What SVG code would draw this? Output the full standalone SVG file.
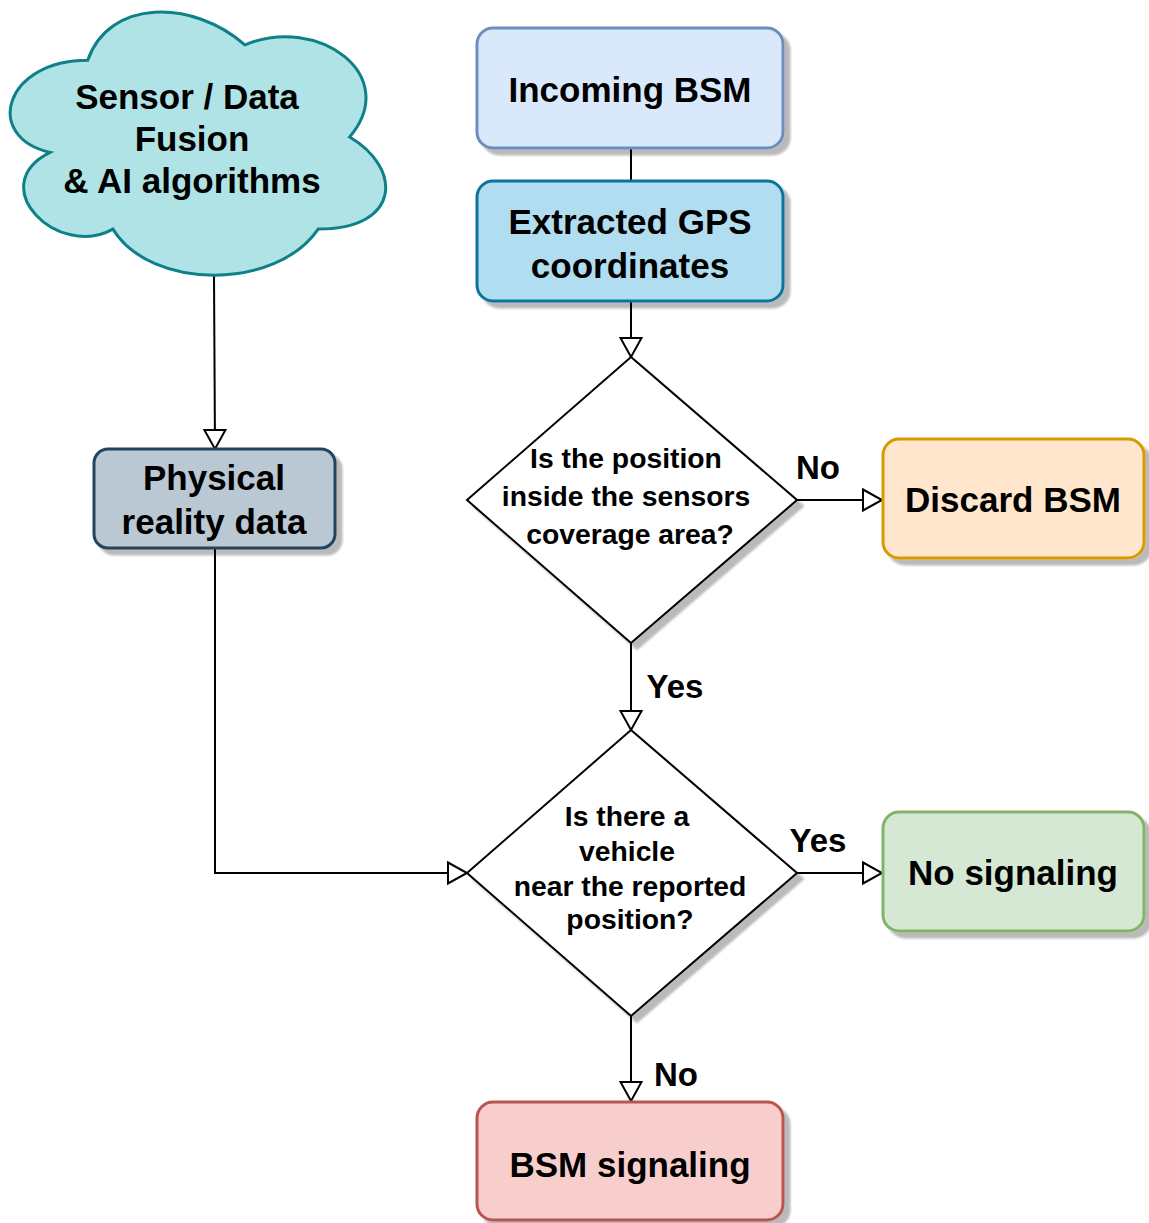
<svg xmlns="http://www.w3.org/2000/svg" width="1149" height="1223" viewBox="0 0 1149 1223">
  <defs>
    <filter id="shadow" x="-10%" y="-10%" width="130%" height="130%">
      <feDropShadow dx="6" dy="6" stdDeviation="1" flood-color="#000000" flood-opacity="0.27"/>
    </filter>
    <marker id="openArrow" markerUnits="userSpaceOnUse" markerWidth="24" markerHeight="26" viewBox="-2 -2 24 26" refX="19" refY="10.5" orient="auto">
      <path d="M0,0 L19,10.5 L0,21 Z" fill="#ffffff" stroke="#000000" stroke-width="2"/>
    </marker>
  </defs>
  <style>
    text { font-family: "Liberation Sans", Arial, Helvetica, sans-serif; font-weight: bold; fill: #000000; text-anchor: middle; }
    .big { font-size: 35px; }
    .q { font-size: 28.3px; }
    .lbl { font-size: 33px; }
    .box { stroke-width: 3; filter: url(#shadow); }
    .diamond { fill: #ffffff; stroke: #000000; stroke-width: 2; filter: url(#shadow); }
    .edge { fill: none; stroke: #000000; stroke-width: 2; }
  </style>

  <rect width="1149" height="1223" fill="#ffffff"/>

  <!-- connectors -->
  <g id="connectors">
    <path class="edge" d="M631,149 L631,181"/>
    <path class="edge" d="M631,302 L631,357" marker-end="url(#openArrow)"/>
    <path class="edge" d="M797,500 L882,500" marker-end="url(#openArrow)"/>
    <path class="edge" d="M631,643 L631,730" marker-end="url(#openArrow)"/>
    <path class="edge" d="M797,873 L882,873" marker-end="url(#openArrow)"/>
    <path class="edge" d="M631,1016 L631,1101" marker-end="url(#openArrow)"/>
    <path class="edge" d="M214,276 L215,449" marker-end="url(#openArrow)"/>
    <path class="edge" d="M215,548 L215,873 L467,873" marker-end="url(#openArrow)"/>
    <text class="lbl" x="818" y="479">No</text>
    <text class="lbl" x="675" y="698">Yes</text>
    <text class="lbl" x="818" y="852">Yes</text>
    <text class="lbl" x="676" y="1086">No</text>
  </g>

  <!-- sensor fusion cloud -->
  <g id="cloud">
    <path d="M87.75,60.25 C3.95,60.25 -17,137 50.04,152.35 C-17,186.1 58.42,259.8 112.89,229.1 C150.6,290.5 276.3,290.5 318.2,229.1 C402,229.1 402,167.7 349.6,137 C402,75.6 318.2,14.2 244.88,44.9 C192.5,-1.15 108.7,-1.15 87.75,60.25 Z" fill="#b0e3e6" stroke="#0e8088" stroke-width="3"/>
    <text class="big" x="187" y="109">Sensor / Data</text>
    <text class="big" x="192" y="151">Fusion</text>
    <text class="big" x="192" y="193">&amp; AI algorithms</text>
  </g>

  <g id="incoming">
    <rect class="box" x="477" y="28" width="306" height="120" rx="16" fill="#dae8fc" stroke="#6c8ebf"/>
    <text class="big" x="630" y="102">Incoming BSM</text>
  </g>

  <g id="extracted">
    <rect class="box" x="477" y="181" width="306" height="120" rx="16" fill="#b1ddf0" stroke="#10739e"/>
    <text class="big" x="630" y="234">Extracted GPS</text>
    <text class="big" x="630" y="278">coordinates</text>
  </g>

  <g id="physical">
    <rect class="box" x="94" y="449" width="241" height="99" rx="14" fill="#bac8d3" stroke="#23445d"/>
    <text class="big" x="214" y="490">Physical</text>
    <text class="big" x="214" y="534">reality data</text>
  </g>

  <g id="coverage">
    <path class="diamond" d="M631,357 L797,500 L631,643 L467,500 Z"/>
    <text class="q" x="626" y="468">Is the position</text>
    <text class="q" x="626" y="506">inside the sensors</text>
    <text class="q" x="630" y="544">coverage area?</text>
  </g>

  <g id="discard">
    <rect class="box" x="883" y="439" width="261" height="119" rx="16" fill="#ffe6cc" stroke="#d79b00"/>
    <text class="big" x="1013" y="512">Discard BSM</text>
  </g>

  <g id="vehicle">
    <path class="diamond" d="M631,730 L797,873 L631,1016 L467,873 Z"/>
    <text class="q" x="627" y="826">Is there a</text>
    <text class="q" x="627" y="861">vehicle</text>
    <text class="q" x="630" y="896">near the reported</text>
    <text class="q" x="630" y="929">position?</text>
  </g>

  <g id="nosignal">
    <rect class="box" x="883" y="812" width="261" height="119" rx="16" fill="#d5e8d4" stroke="#82b366"/>
    <text class="big" x="1013" y="885">No signaling</text>
  </g>

  <g id="bsmsignal">
    <rect class="box" x="477" y="1102" width="306" height="118" rx="16" fill="#f8cecc" stroke="#b85450"/>
    <text class="big" x="630" y="1177">BSM signaling</text>
  </g>
</svg>
